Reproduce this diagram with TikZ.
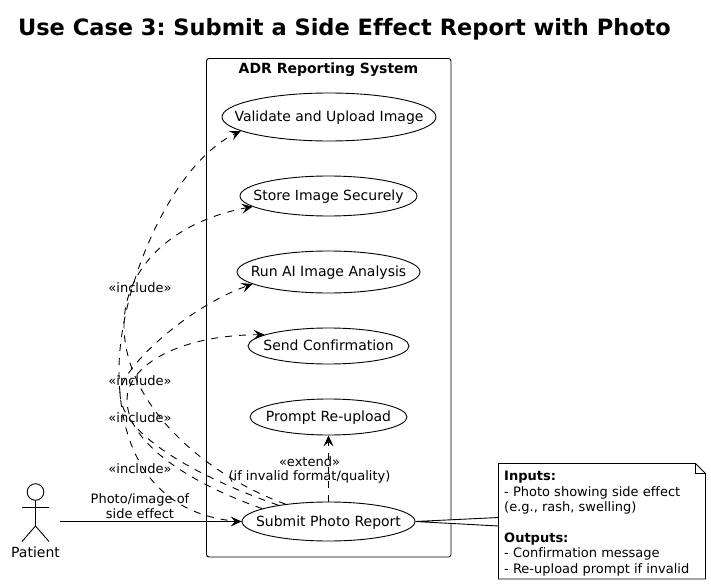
\documentclass[tikz,border=0pt]{standalone}
\usepackage{fontspec}
\setmainfont[Ligatures=NoCommon]{DejaVu Sans}
\usetikzlibrary{shapes.geometric,arrows.meta}
\newcommand{\uctext}[1]{\raisebox{-4.8pt}[0pt][0pt]{\makebox[0pt]{#1}}}
\tikzset{
  usecase/.style={draw=black,ellipse,line width=0.9pt,inner sep=0pt,font=\fontsize{14}{16}\selectfont},
  lbl/.style={inner sep=0pt,align=center,font=\fontsize{13}{15}\selectfont},
  tip/.style={-{Stealth[length=11pt,width=10pt,inset=4.5pt]}},
  incl/.style={tip,line width=0.9pt,dash pattern=on 7pt off 7pt},
  solidconn/.style={line width=0.9pt},
}
\begin{document}
\frenchspacing
\begin{tikzpicture}[x=1pt,y=-1pt]
\useasboundingbox (0,0) rectangle (711,585);
\fill[white] (0,0) rectangle (711,585);
\node[inner sep=0pt,font=\fontsize{22.5}{25}\selectfont\bfseries] (title) at (344.5,29) {Use Case 3: Submit a Side Effect Report with Photo};
\draw[line width=0.9pt,rounded corners=2.5pt] (206.5,58.5) rectangle (451,557);
\node[inner sep=0pt,font=\fontsize{14}{16}\selectfont\bfseries] (sys) at (328.5,69.5) {ADR Reporting System};
\node[usecase,minimum width=214pt,minimum height=48pt] (v) at (329,117) {\uctext{Validate and Upload Image}};
\node[usecase,minimum width=177pt,minimum height=40pt] (st) at (328.5,196) {\uctext{Store Image Securely}};
\node[usecase,minimum width=183pt,minimum height=42pt] (r) at (328.5,272) {\uctext{Run AI Image Analysis}};
\node[usecase,minimum width=161pt,minimum height=36pt] (c) at (328.5,346) {\uctext{Send Confirmation}};
\node[usecase,minimum width=157pt,minimum height=36pt] (p) at (328.5,417) {\uctext{Prompt Re-upload}};
\node[usecase,minimum width=173pt,minimum height=39pt] (s) at (328.5,521.5) {\uctext{Submit Photo Report}};
% actor
\coordinate (neck) at (35.5,500.5);
\draw[line width=0.9pt] (35.5,492) circle (8.3pt);
\draw[line width=0.9pt] (neck) -- (35.5,526) -- (22,541.5) (35.5,526) -- (49,541.5) (22,507.5) -- (49,507.5);
\node[lbl,font=\fontsize{14}{16}\selectfont] (patient) at (35.5,552) {Patient};
\coordinate (pout) at (60,521.5);
\draw[solidconn,tip] (pout) -- (s.180);
\node[lbl] (pl) at (140,506) {Photo/image of\\[-0.5pt]side effect};
% includes
\coordinate (wv) at (119,370);
\coordinate (ws) at (124,325);
\coordinate (wr) at (120,393);
\coordinate (wc) at (127,400);
\draw[incl] (s.180) .. controls (170,518) and (119,470) .. (wv) .. controls (119,290) and (170,165) .. (v.189);
\draw[incl] (s.158) .. controls (205,475) and (124,405) .. (ws) .. controls (124,270) and (170,222) .. (st.188);
\draw[incl] (s.162) .. controls (200,478) and (120,435) .. (wr) .. controls (120,370) and (185,308) .. (r.189);
\draw[incl] (s.169) .. controls (195,485) and (127,445) .. (wc) .. controls (127,365) and (180,335) .. (c.170);
\node[lbl] (i1) at (140,288) {«include»};
\node[lbl] (i2) at (140,381) {«include»};
\node[lbl] (i3) at (140,418) {«include»};
\node[lbl] (i4) at (140,469) {«include»};
% extend
\draw[incl] (s.90) -- (p.270);
\node[lbl] (ex) at (309.5,470) {«extend»\\[-0.5pt](if invalid format/quality)};
% note
\coordinate (n1) at (498.5,517.5);
\coordinate (n2) at (498.5,526);
\draw[line width=0.9pt,fill=white] (s.0) -- (n1) -- (n2) -- cycle;
\draw[line width=0.9pt,fill=white] (498.5,463.5) -- (695.5,463.5) -- (705.5,473.5) -- (705.5,579) -- (498.5,579) -- cycle;
\draw[line width=0.9pt] (695.5,463.5) -- (695.5,473.5) -- (705.5,473.5);
\node[inner sep=0pt,anchor=north west,align=left,font=\fontsize{13}{15.4}\selectfont] (note) at (504,471) {\textbf{Inputs:}\\- Photo showing side effect\\(e.g., rash, swelling)\\[15.4pt]\textbf{Outputs:}\\- Confirmation message\\- Re-upload prompt if invalid};
\end{tikzpicture}
\end{document}
